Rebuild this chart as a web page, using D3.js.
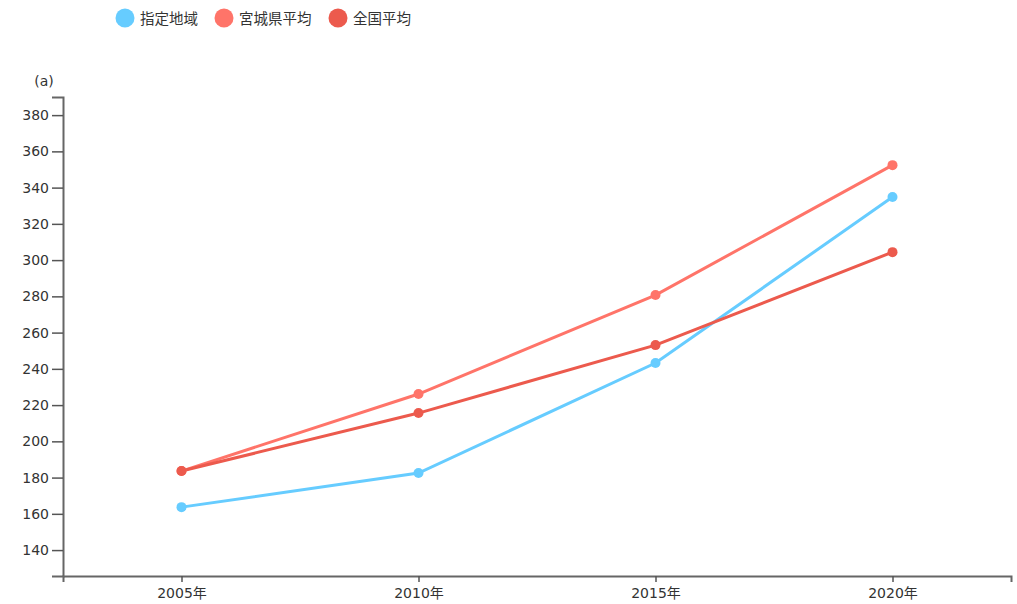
<!DOCTYPE html>
<html>
<head>
<meta charset="utf-8">
<script src="https://cdn.jsdelivr.net/npm/d3@7"></script>
<style>
  body { margin: 0; background: #fff; }
  svg text { font-family: "DejaVu Sans", "Noto Sans CJK JP", sans-serif; fill: #333; }
</style>
</head>
<body>
<svg id="chart" width="1017" height="604"></svg>
<script>
const years = ["2005年", "2010年", "2015年", "2020年"];
const seriesNames = ["指定地域", "宮城県平均", "全国平均"];
const seriesColors = ["#66ccff", "#ff7469", "#ec5a4d"];
const designated = [163.7, 182.5, 243.2, 334.8];
const miyagiAvg = [183.6, 226.1, 280.7, 352.4];
const nationalAvg = [183.6, 215.6, 253.1, 304.4];
const yTicks = [140, 160, 180, 200, 220, 240, 260, 280, 300, 320, 340, 360, 380];
const yUnit = "(a)";

const series = [
  { name: seriesNames[0], color: seriesColors[0], values: designated },
  { name: seriesNames[1], color: seriesColors[1], values: miyagiAvg },
  { name: seriesNames[2], color: seriesColors[2], values: nationalAvg }
];

const svg = d3.select("#chart");
const plotLeft = 63, plotRight = 1011, plotTop = 97, plotBottom = 576;

const x = d3.scalePoint().domain(years).range([plotLeft, plotRight]).padding(0.5);
const y = d3.scaleLinear().domain([125.7, 390]).range([plotBottom, plotTop]);

// axes
const xAxis = svg.append("g")
  .attr("transform", `translate(0,${plotBottom})`)
  .call(d3.axisBottom(x).tickSize(6).tickPadding(6));
const yAxis = svg.append("g")
  .attr("transform", `translate(${plotLeft},0)`)
  .call(d3.axisLeft(y).tickValues(yTicks).tickSize(11).tickPadding(3));

[xAxis, yAxis].forEach(g => {
  g.selectAll("path.domain").attr("stroke", "#666").attr("stroke-width", 2);
  g.selectAll(".tick line").attr("stroke", "#555").attr("stroke-width", 1.5);
  g.selectAll(".tick text").attr("font-size", 14).attr("fill", "#333")
    .style("font-family", "'DejaVu Sans', 'Noto Sans CJK JP', sans-serif");
});

svg.append("text")
  .attr("x", 44).attr("y", 86)
  .attr("text-anchor", "middle")
  .attr("font-size", 14)
  .text(yUnit);

// lines and points
const line = d3.line()
  .x((d, i) => x(years[i]))
  .y(d => y(d));

const g = svg.append("g");
series.forEach(s => {
  g.append("path")
    .datum(s.values)
    .attr("fill", "none")
    .attr("stroke", s.color)
    .attr("stroke-width", 3)
    .attr("d", line);
});
series.forEach(s => {
  g.selectAll(null)
    .data(s.values)
    .enter().append("circle")
    .attr("cx", (d, i) => x(years[i]))
    .attr("cy", d => y(d))
    .attr("r", 5)
    .attr("fill", s.color);
});

// legend
const legendX = [125, 224, 338];
const legend = svg.append("g");
series.forEach((s, i) => {
  legend.append("circle")
    .attr("cx", legendX[i]).attr("cy", 18).attr("r", 9.5)
    .attr("fill", s.color);
  legend.append("text")
    .attr("x", legendX[i] + 15).attr("y", 23.5)
    .attr("font-size", 14.5)
    .style("font-family", "'Noto Sans CJK JP', sans-serif")
    .text(s.name);
});
</script>
</body>
</html>
